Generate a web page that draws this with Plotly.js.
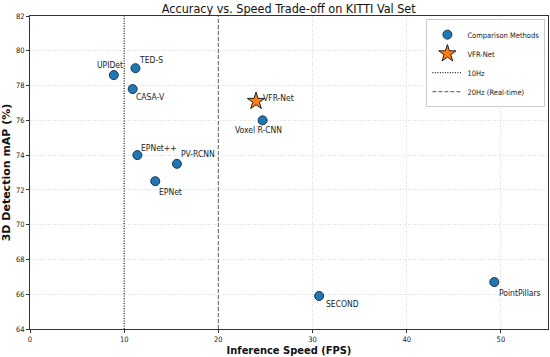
<!DOCTYPE html>
<html><head><meta charset="utf-8">
<script src="https://cdn.plot.ly/plotly-3.0.1.min.js"></script>
<style>html,body{margin:0;padding:0;background:#fff}#chart{width:550px;height:357px}</style>
</head><body><div id="chart"></div>
<script>
const methods = ["UPIDet","TED-S","CASA-V","Voxel R-CNN","EPNet++","PV-RCNN","EPNet","SECOND","PointPillars"];
const fps     = [8.9, 11.2, 10.9, 24.7, 11.4, 15.6, 13.3, 30.7, 49.3];
const mAP     = [78.6, 79.0, 77.8, 76.0, 74.0, 73.5, 72.5, 65.9, 66.7];
const oursName = "VFR-Net";
const oursFps = [24.0];
const oursMAP = [77.1];
const refLines = [{name:"10Hz", x:10}, {name:"20Hz (Real-time)", x:20}];
const yRange = [64, 82];
const xRange = [0, 55];

const FC = "DejaVu Sans Condensed, DejaVu Sans";

// label placement offsets (px)
const labelPos = {
  "UPIDet": {xs:-19, ys:10},
  "TED-S": {xs:2, ys:8},
  "CASA-V": {xs:1.5, ys:-8},
  "Voxel R-CNN": {xs:-30, ys:-10},
  "EPNet++": {xs:2, ys:7},
  "PV-RCNN": {xs:2.5, ys:10},
  "EPNet": {xs:2, ys:-11},
  "SECOND": {xs:5, ys:-8},
  "PointPillars": {xs:3, ys:-10.5}
};

const traces = [
  {type:"scatter", mode:"markers", name:"Comparison Methods", x:fps, y:mAP,
   marker:{size:9, color:"#1f77b4", line:{color:"#1a3550", width:1}}, cliponaxis:false},
  {type:"scatter", mode:"markers", name:oursName, x:oursFps, y:oursMAP,
   marker:{size:13, symbol:"star", color:"#ff7f0e", line:{color:"#222", width:1}}, cliponaxis:false},
  {type:"scatter", mode:"lines", name:refLines[0].name, x:[refLines[0].x, refLines[0].x], y:yRange,
   line:{color:"#222", width:1.2, dash:"1px,1.5px"}},
  {type:"scatter", mode:"lines", name:refLines[1].name, x:[refLines[1].x, refLines[1].x], y:yRange,
   line:{color:"#777", width:1.2, dash:"4px,2px"}}
];

const annotations = methods.map((m,i)=>({
  x:fps[i], y:mAP[i], xref:"x", yref:"y", text:m, showarrow:false,
  xanchor:"left", yanchor:"middle", xshift:labelPos[m].xs, yshift:labelPos[m].ys,
  font:{size:8.5, color:"#222", family:FC}
}));
annotations.push({x:oursFps[0], y:oursMAP[0], xref:"x", yref:"y", text:oursName, showarrow:false,
  xanchor:"left", yanchor:"middle", xshift:5, yshift:3, font:{size:8.5, color:"#222", family:FC}});

const axisCommon = {
  showline:true, mirror:true, linecolor:"#333", linewidth:1,
  ticks:"outside", ticklen:3, tickcolor:"#333", tickwidth:1,
  showgrid:true, gridcolor:"#dedede", griddash:"1px,1.5px", gridwidth:1,
  zeroline:false, tickfont:{size:7.5, color:"#222", family:FC}
};

const layout = {
  width:550, height:357,
  margin:{l:30, r:2, t:16, b:28},
  paper_bgcolor:"#fff", plot_bgcolor:"#fff",
  font:{family:FC},
  title:{text:"Accuracy vs. Speed Trade-off on KITTI Val Set", x:0.525, xanchor:"center", y:0.975, yanchor:"middle",
    font:{size:12.5, color:"#111", family:FC}},
  xaxis:Object.assign({}, axisCommon, {range:xRange, dtick:10, tick0:0,
    title:{text:"<b>Inference Speed (FPS)</b>", font:{size:11, color:"#111", family:FC}, standoff:4}}),
  yaxis:Object.assign({}, axisCommon, {range:yRange, dtick:2, tick0:64,
    title:{text:"<b>3D Detection mAP (%)</b>", font:{size:11, color:"#111", family:"DejaVu Sans"}, standoff:4}}),
  showlegend:true,
  legend:{x:0.995, y:0.99, xanchor:"right", yanchor:"top", bgcolor:"rgba(255,255,255,0.9)",
    bordercolor:"#ccc", borderwidth:1, font:{size:7.5, color:"#222", family:FC}, tracegroupgap:0,
    itemwidth:30},
  annotations:annotations
};

Plotly.newPlot("chart", traces, layout, {displayModeBar:false, staticPlot:true});
</script></body></html>
